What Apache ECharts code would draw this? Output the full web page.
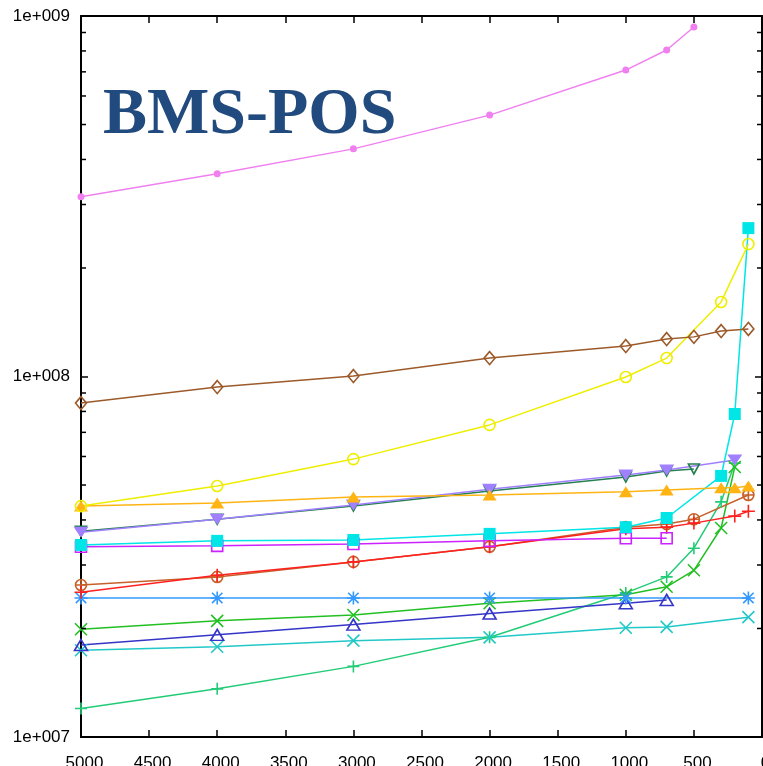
<!DOCTYPE html>
<html><head><meta charset="utf-8">
<script src="https://cdn.jsdelivr.net/npm/echarts@6/dist/echarts.min.js"></script>
<style>html,body{margin:0;padding:0;background:#fff}#c{width:763px;height:766px}</style>
</head><body><div id="c"></div>
<script>
// ---- data ----
const xValues = [5000, 4000, 3000, 2000, 1000, 700, 500, 300, 200, 100];
const yTickLabels = ['1e+007', '1e+008', '1e+009'];
const minorTickValues = [2e7,3e7,4e7,5e7,6e7,7e7,8e7,9e7,2e8,3e8,4e8,5e8,6e8,7e8,8e8,9e8];

const pinkDots          = [3.15e8, 3.65e8, 4.28e8, 5.31e8, 7.08e8, 8.05e8, 9.32e8, null, null, null];
const brownDiamonds     = [8.44e7, 9.35e7, 1.003e8, 1.125e8, 1.215e8, 1.27e8, 1.288e8, 1.337e8, null, 1.355e8];
const yellowCircles     = [4.37e7, 4.97e7, 5.90e7, 7.34e7, 9.97e7, 1.125e8, null, 1.61e8, null, 2.33e8];
const cyanSquares       = [3.41e7, 3.50e7, 3.52e7, 3.66e7, 3.82e7, 4.05e7, null, 5.30e7, 7.87e7, 2.58e8];
const orangeTriangles   = [4.37e7, 4.46e7, 4.63e7, 4.69e7, 4.79e7, 4.84e7, null, 4.91e7, 4.91e7, 4.97e7];
const purpleTriangles   = [3.70e7, 4.02e7, 4.40e7, 4.87e7, 5.33e7, 5.50e7, null, null, 5.87e7, null];
const darkGreenTriangles= [3.72e7, 4.02e7, 4.37e7, 4.81e7, 5.26e7, 5.47e7, 5.54e7, null, null, null];
const magentaSquares    = [3.37e7, 3.39e7, 3.43e7, 3.50e7, 3.56e7, 3.56e7, null, null, null, null];
const rustCircles       = [2.64e7, 2.78e7, 3.06e7, 3.37e7, 3.82e7, 3.90e7, 4.02e7, null, null, 4.69e7];
const redPluses         = [2.52e7, 2.81e7, 3.06e7, 3.37e7, 3.78e7, 3.82e7, 3.92e7, null, 4.10e7, 4.23e7];
const blueStars         = [2.43e7, 2.43e7, 2.43e7, 2.43e7, 2.43e7, null, null, null, null, 2.43e7];
const greenCrosses      = [1.99e7, 2.10e7, 2.18e7, 2.35e7, 2.48e7, 2.61e7, 2.90e7, 3.80e7, 5.61e7, null];
const navyTriangles     = [1.80e7, 1.92e7, 2.05e7, 2.20e7, 2.35e7, 2.40e7, null, null, null, null];
const tealCrosses       = [1.74e7, 1.78e7, 1.85e7, 1.89e7, 2.01e7, 2.02e7, null, null, null, 2.15e7];
const seaGreenPluses    = [1.20e7, 1.36e7, 1.57e7, 1.89e7, 2.51e7, 2.78e7, 3.34e7, 4.49e7, 5.75e7, null];

// ---- symbols ----
const S = {
  circleO: 'path://M0,5A5,5,0,1,1,10,5A5,5,0,1,1,0,5Z',
  circleX: 'path://M0,5A5,5,0,1,1,10,5A5,5,0,1,1,0,5ZM5,0V10M0,5H10',
  diamondO: 'path://M5,0L10,6L5,12L0,6Z',
  squareO: 'path://M0,0H10V10H0Z',
  triUpO: 'path://M5,0L10,9L0,9Z',
  triDownO: 'path://M0,0H10L5,9Z',
  triDown: 'path://M0,0H10L5,9Z',
  plus: 'path://M5,0V10M0,5H10',
  cross: 'path://M0,0L10,10M10,0L0,10',
  star: 'path://M5,0V10M0,5H10M1,1L9,9M9,1L1,9'
};

const seriesDefs = [
  {v: seaGreenPluses,     c: '#22cc77', s: S.plus,     z: 12, open: true},
  {v: tealCrosses,        c: '#22c8c8', s: S.cross,    z: 12, open: true},
  {v: navyTriangles,      c: '#3535c8', s: S.triUpO,   z: [13, 11], open: true},
  {v: greenCrosses,       c: '#22c022', s: S.cross,    z: 12, open: true},
  {v: blueStars,          c: '#3399ff', s: S.star,     z: 13, open: true},
  {v: rustCircles,        c: '#c8602a', s: S.circleX,  z: 11, open: true},
  {v: redPluses,          c: '#ff2020', s: S.plus,     z: 13, open: true},
  {v: magentaSquares,     c: '#cc22ff', s: S.squareO,  z: 11, open: true},
  {v: cyanSquares,        c: '#00e5e5', s: 'rect',     z: 12, open: false},
  {v: darkGreenTriangles, c: '#268050', s: S.triDownO, z: [11, 10], open: true},
  {v: purpleTriangles,    c: '#a080ff', s: S.triDown,  z: [15, 11], open: false},
  {v: orangeTriangles,    c: '#ffb414', s: 'triangle', z: [14, 11], open: false},
  {v: yellowCircles,      c: '#eeee00', s: S.circleO,  z: 11, open: true},
  {v: brownDiamonds,      c: '#9c5a2a', s: S.diamondO, z: [11, 13], open: true},
  {v: pinkDots,           c: '#f080f0', s: 'circle',   z: 7, open: false}
];

const lineSeries = seriesDefs.map(d => ({
  type: 'line',
  data: xValues.map((x, i) => [x, d.v[i]]).filter(p => p[1] != null),
  symbol: d.s,
  symbolSize: d.z,
  showSymbol: true,
  lineStyle: {color: d.c, width: 1.5},
  itemStyle: d.open
    ? {color: 'rgba(0,0,0,0)', borderColor: d.c, borderWidth: 1.6}
    : {color: d.c, borderWidth: 0},
  emphasis: {disabled: true},
  animation: false,
  clip: true
}));

const minorTickSeries = {
  type: 'custom',
  data: minorTickValues.map(v => [0, v]),
  encode: {x: 0, y: 1},
  silent: true,
  animation: false,
  z: 20,
  renderItem: (params, api) => {
    const cs = params.coordSys;
    const y = api.coord([0, api.value(1)])[1];
    const L = cs.x, R = cs.x + cs.width;
    return {type: 'group', children: [
      {type: 'line', shape: {x1: L, y1: y, x2: L + 5, y2: y}, style: {stroke: '#000', lineWidth: 1.5}},
      {type: 'line', shape: {x1: R - 5, y1: y, x2: R, y2: y}, style: {stroke: '#000', lineWidth: 1.5}}
    ]};
  }
};

const axisLine = {show: true, onZero: false, lineStyle: {color: '#000', width: 2}};
const tick = {show: true, inside: true, length: 7, lineStyle: {color: '#000', width: 1.5}};

const chart = echarts.init(document.getElementById('c'), null, {renderer: 'canvas'});
chart.setOption({
  backgroundColor: '#fff',
  animation: false,
  title: {
    text: 'BMS-POS', left: 98, top: 78,
    textStyle: {fontFamily: 'Liberation Serif', fontWeight: 'bold', fontSize: 66, color: '#214a7f'}
  },
  grid: {left: 81, right: 1, top: 16, bottom: 29, containLabel: false, outerBoundsMode: 'none'},
  xAxis: [
    {type: 'value', inverse: true, min: 0, max: 5000, interval: 500, position: 'bottom',
     axisLine, axisTick: tick, splitLine: {show: false},
     axisLabel: {show: true, color: '#000', fontFamily: 'Liberation Sans', fontSize: 17, margin: 18,
                 padding: [0, 0, 0, 7], formatter: v => String(v), hideOverlap: false}},
    {type: 'value', inverse: true, min: 0, max: 5000, interval: 500, position: 'top',
     axisLine, axisTick: tick, splitLine: {show: false}, axisLabel: {show: false}}
  ],
  yAxis: [
    {type: 'log', logBase: 10, min: 1e7, max: 1e9, position: 'left',
     axisLine, axisTick: tick, splitLine: {show: false}, minorTick: {show: false},
     axisLabel: {show: true, color: '#000', fontFamily: 'Liberation Sans', fontSize: 17, margin: 11,
                 formatter: v => yTickLabels[Math.round(Math.log10(v)) - 7] || ''}},
    {type: 'log', logBase: 10, min: 1e7, max: 1e9, position: 'right',
     axisLine, axisTick: tick, splitLine: {show: false}, axisLabel: {show: false}}
  ],
  series: [...lineSeries, minorTickSeries]
});
</script></body></html>
